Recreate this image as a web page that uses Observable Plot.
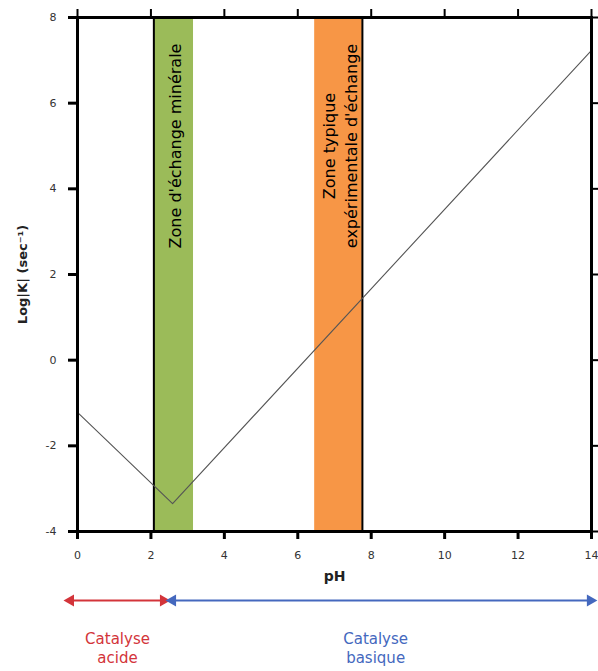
<!DOCTYPE html>
<html>
<head>
<meta charset="utf-8">
<script src="https://cdn.jsdelivr.net/npm/d3@7"></script>
<script src="https://cdn.jsdelivr.net/npm/@observablehq/plot@0.6"></script>
<style>
  body { margin: 0; background: #fff; }
  svg { font-family: "DejaVu Sans", sans-serif; }
</style>
</head>
<body>
<div id="chart"></div>
<script>
// ---- Data ----
const linePH = [0, 2.59, 14];
const lineLogK = [-1.22, -3.35, 7.23];

const bandStart = [2.08, 6.46];
const bandEnd = [3.16, 7.76];
const bandLabels = ["Zone d'échange minérale", "Zone typique\nexpérimentale d'échange"];
const boundaryPH = [2.08, 7.76];

const xTicks = [0, 2, 4, 6, 8, 10, 12, 14];
const yTicks = [-4, -2, 0, 2, 4, 6, 8];

const rangeNames = ["Catalyse\nacide", "Catalyse\nbasique"];
const rangeFrom = [-0.19, 2.59];
const rangeTo = [2.34, 13.97];
const rangeLabelX = [1.09, 8.12];

// ---- Styles ----
const bandColors = ["#9BBB59", "#F79646"];
const rangeColors = ["#D3343A", "#4468BE"];
const arrowY = -5.61;
const rangeLabelY = -6.7;

const points = linePH.map((x, i) => ({x, y: lineLogK[i]}));
const bands = bandStart.map((s, i) => ({x1: s, x2: bandEnd[i], label: bandLabels[i], color: bandColors[i], mid: (s + bandEnd[i]) / 2}));
const ranges = rangeNames.map((n, i) => ({name: n, from: rangeFrom[i], to: rangeTo[i], lx: rangeLabelX[i], color: rangeColors[i]}));
const heads = ranges.flatMap(r => [
  {x: r.from, color: r.color, rot: -90},
  {x: r.to, color: r.color, rot: 90}
]);

const chart = Plot.plot({
  width: 598,
  height: 671,
  marginLeft: 77,
  marginRight: 7,
  marginTop: 17,
  marginBottom: 140,
  x: {domain: [0, 14], label: null},
  y: {domain: [-4, 8], label: null},
  marks: [
    Plot.rect(bands, {x1: "x1", x2: "x2", y1: -4, y2: 8, fill: "color"}),
    Plot.ruleX(boundaryPH, {y1: -4, y2: 8, stroke: "black", strokeWidth: 2}),
    Plot.line(points, {x: "x", y: "y", stroke: "#555", strokeWidth: 1.1}),
    Plot.text(bands, {x: "mid", y: 5, text: "label", rotate: -90, fontSize: 16, lineHeight: 1.38, fill: "black"}),
    Plot.frame({stroke: "black", strokeWidth: 3}),
    Plot.axisX({anchor: "bottom", ticks: xTicks, tickSize: 8, tickPadding: 12, strokeWidth: 3, fontSize: 11, fill: "#333", label: null}),
    Plot.axisX({anchor: "top", ticks: xTicks, tickSize: 9, strokeWidth: 2, tickFormat: () => "", label: null}),
    Plot.axisY({anchor: "left", ticks: yTicks, tickSize: 9, tickPadding: 12, strokeWidth: 3, fontSize: 11, fill: "#333", tickFormat: d => String(d), label: null}),
    Plot.axisY({anchor: "right", ticks: yTicks, tickSize: 7, strokeWidth: 2, tickFormat: () => "", label: null}),
    Plot.text(["pH"], {frameAnchor: "bottom", dy: 49, fontSize: 14, fontWeight: "bold", fill: "#222"}),
    Plot.text(["Log|K| (sec⁻¹)"], {frameAnchor: "left", dx: -55, rotate: -90, textAnchor: "middle", fontSize: 13, fontWeight: "bold", fill: "#222"}),
    Plot.link(ranges, {x1: "from", x2: "to", y1: arrowY, y2: arrowY, stroke: "color", strokeWidth: 2}),
    Plot.dot(heads, {x: "x", y: arrowY, symbol: "triangle", rotate: "rot", r: 4.5, fill: "color", stroke: "none"}),
    Plot.text(ranges, {x: "lx", y: rangeLabelY, text: "name", fill: "color", fontSize: 15, lineHeight: 1.3})
  ]
});
document.getElementById("chart").appendChild(chart);
</script>
</body>
</html>
